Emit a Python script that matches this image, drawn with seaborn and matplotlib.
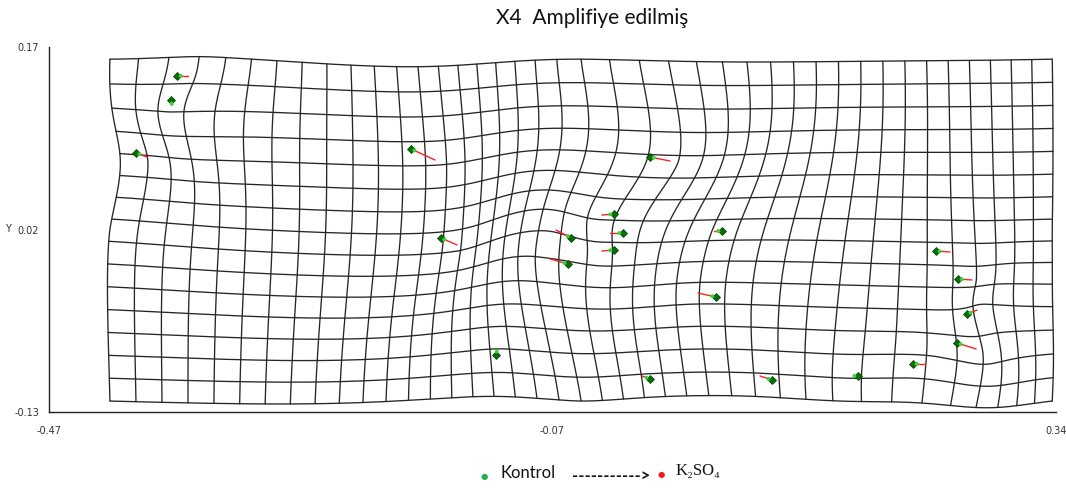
import numpy as np
import pandas as pd
import matplotlib
matplotlib.use("Agg")
import matplotlib.pyplot as plt
import seaborn as sns

# ---------------- data ----------------
title = "X4  Amplifiye edilmiş"
legend_labels = ["Kontrol", "K₂SO₄"]

# landmark positions: Kontrol (start) and K2SO4 (end of vectors)
ctrl_x = [-0.3670, -0.3719, -0.4000, -0.1788, -0.1547, -0.1104, -0.0501, -0.0525,
          -0.0155, -0.0083, -0.0155, 0.0714, 0.0134, 0.0665, 0.0134, 0.1116,
          0.1808, 0.2250, 0.2435, 0.2612, 0.2684, 0.2604]
ctrl_y = [0.1462, 0.1264, 0.0829, 0.0862, 0.0130, -0.0832, 0.0130, -0.0084,
          0.0327, 0.0171, 0.0032, 0.0188, 0.0796, -0.0355, -0.1029, -0.1037,
          -0.1004, -0.0905, 0.0023, -0.0207, -0.0495, -0.0733]
trt_x = [-0.3582, -0.3711, -0.3912, -0.1595, -0.1418, -0.1096, -0.0622, -0.0670,
         -0.0252, -0.0187, -0.0252, 0.0649, 0.0295, 0.0521, 0.0070, 0.1019,
         0.1783, 0.2347, 0.2548, 0.2725, 0.2765, 0.2757]
trt_y = [0.1462, 0.1223, 0.0796, 0.0771, 0.0073, -0.0790, 0.0196, -0.0042,
         0.0319, 0.0171, 0.0023, 0.0188, 0.0763, -0.0322, -0.1004, -0.1004,
         -0.1004, -0.0905, 0.0015, -0.0215, -0.0462, -0.0782]

# fixed frame anchors of the deformation grid (zero displacement)
anchor_x = [-0.421, -0.042, 0.337, -0.421, 0.337, -0.421, -0.042, 0.337]
anchor_y = [0.160, 0.160, 0.160, 0.020, 0.020, -0.121, -0.121, -0.121]

grid_x_range = (-0.421, 0.337)
grid_y_range = (-0.121, 0.160)
grid_n_cols = 41
grid_n_rows = 16
amplify = 1.3

x_ticks = [-0.47, -0.065, 0.34]
x_tick_labels = ["-0.47", "-0.07", "0.34"]
y_ticks = [0.17, 0.02, -0.13]
y_tick_labels = ["0.17", "0.02", "-0.13"]

# ---------------- thin-plate spline ----------------
lm = np.column_stack([ctrl_x, ctrl_y])
an = np.column_stack([anchor_x, anchor_y])
src = np.vstack([lm, an])
disp = np.vstack([(np.column_stack([trt_x, trt_y]) - lm) * amplify,
                  np.zeros_like(an)])


def U(r2):
    with np.errstate(divide="ignore", invalid="ignore"):
        v = r2 * np.log(r2)
    v[~np.isfinite(v)] = 0.0
    return v


n = len(src)
d2 = ((src[:, None, :] - src[None, :, :]) ** 2).sum(-1)
K = U(d2)
P = np.column_stack([np.ones(n), src])
L = np.zeros((n + 3, n + 3))
L[:n, :n] = K
L[:n, n:] = P
L[n:, :n] = P.T
rhs = np.zeros((n + 3, 2))
rhs[:n] = disp
coef = np.linalg.solve(L, rhs)
w, a = coef[:n], coef[n:]


def warp(pts):
    r2 = ((pts[:, None, :] - src[None, :, :]) ** 2).sum(-1)
    return pts + U(r2) @ w + a[0] + pts @ a[1:]


gx = np.linspace(*grid_x_range, grid_n_cols)
gy = np.linspace(*grid_y_range, grid_n_rows)
tx = np.linspace(*grid_x_range, 200)
ty = np.linspace(*grid_y_range, 120)
base_lines = [np.column_stack([np.full_like(ty, xv), ty]) for xv in gx] + \
             [np.column_stack([tx, np.full_like(tx, yv)]) for yv in gy]
rows = []
for lid, b in enumerate(base_lines):
    p = warp(b)
    rows.append(pd.DataFrame({"x": p[:, 0], "y": p[:, 1], "line": lid}))
grid_df = pd.concat(rows, ignore_index=True)

nl = len(ctrl_x)
seg_rows = []
for i in range(nl):
    seg_rows.append({"x": ctrl_x[i], "y": ctrl_y[i], "seg": i})
    seg_rows.append({"x": trt_x[i], "y": trt_y[i], "seg": i})
seg_df = pd.DataFrame(seg_rows)

cx = np.array(ctrl_x); cy = np.array(ctrl_y)
vx = np.array(trt_x) - cx; vy = np.array(trt_y) - cy
ln = np.hypot(vx, vy) + 1e-9
light_df = pd.DataFrame({"x": cx + vx / ln * 0.003, "y": cy + vy / ln * 0.003})
dark_df = pd.DataFrame({"x": cx, "y": cy})

# ---------------- plot ----------------
sns.set_theme(style="white")
plt.rcParams["font.family"] = ["DejaVu Sans"]
fig = plt.figure(figsize=(10.66, 4.88), dpi=100)
ax = fig.add_axes([49 / 1066, 1 - 412 / 488, 1007 / 1066, 365 / 488])

sns.lineplot(data=grid_df, x="x", y="y", units="line", estimator=None, sort=False,
             color="#262626", linewidth=0.95, ax=ax, legend=False)
sns.lineplot(data=seg_df, x="x", y="y", units="seg", estimator=None, sort=False,
             color="#ff2020", linewidth=1.0, ax=ax, legend=False, zorder=3)
sns.scatterplot(data=dark_df, x="x", y="y", color="#0a6e0a", edgecolor="#004a00",
                marker="D", s=16, linewidth=0.6, ax=ax, zorder=4, legend=False)
sns.scatterplot(data=light_df, x="x", y="y", color="#3fd23f", edgecolor="none",
                s=8, ax=ax, zorder=5, legend=False)

ax.set_xlim(-0.47, 0.34)
ax.set_ylim(-0.13, 0.17)
sns.despine(ax=ax, top=True, right=True)
for s in ["left", "bottom"]:
    ax.spines[s].set_color("#222222")
    ax.spines[s].set_linewidth(1.0)

ax.set_xticks(x_ticks)
ax.set_xticklabels(x_tick_labels)
ax.set_xticks(list(np.linspace(-0.47, 0.34, 9)), minor=True)
ax.set_yticks(y_ticks)
ax.set_yticklabels(y_tick_labels)
ax.tick_params(axis="x", which="major", direction="out", length=8, width=1,
               color="#222222", labelsize=7, labelcolor="#333333", pad=2)
ax.tick_params(axis="x", which="minor", direction="out", length=3, width=1,
               color="#222222")
ax.tick_params(axis="y", which="major", direction="out", length=5, width=1,
               color="#222222", labelsize=7, labelcolor="#333333", pad=2)
ax.set_xlabel("")
ax.set_ylabel("Y", rotation=0, fontsize=7, color="#333333")
ax.yaxis.set_label_coords(-0.041, 0.5)
ax.yaxis.label.set_verticalalignment("center")

fig.text(592 / 1066, 1 - 18 / 488, title, ha="center", va="center",
         fontsize=15, family=["Lato", "DejaVu Sans"], color="#111111")

# legend at bottom
fig.text(484 / 1066, 1 - 477 / 488, "●", ha="center", va="center", fontsize=6,
         color="#22b14c")
fig.text(500 / 1066, 1 - 473 / 488, legend_labels[0], ha="left", va="center",
         fontsize=12, family=["Lato", "DejaVu Sans"], color="#111111")
fig.text(572 / 1066, 1 - 477 / 488, "----------->", ha="left", va="center",
         fontsize=12, fontweight="bold", family=["Lato", "DejaVu Sans"], color="#111111")
fig.text(661 / 1066, 1 - 475 / 488, "●", ha="center", va="center", fontsize=6,
         color="#ed1c24")
fig.text(676 / 1066, 1 - 471 / 488, legend_labels[1], ha="left", va="center",
         fontsize=12, family=["Liberation Serif", "DejaVu Serif"], color="#111111")

fig.savefig("out.png", dpi=100)
